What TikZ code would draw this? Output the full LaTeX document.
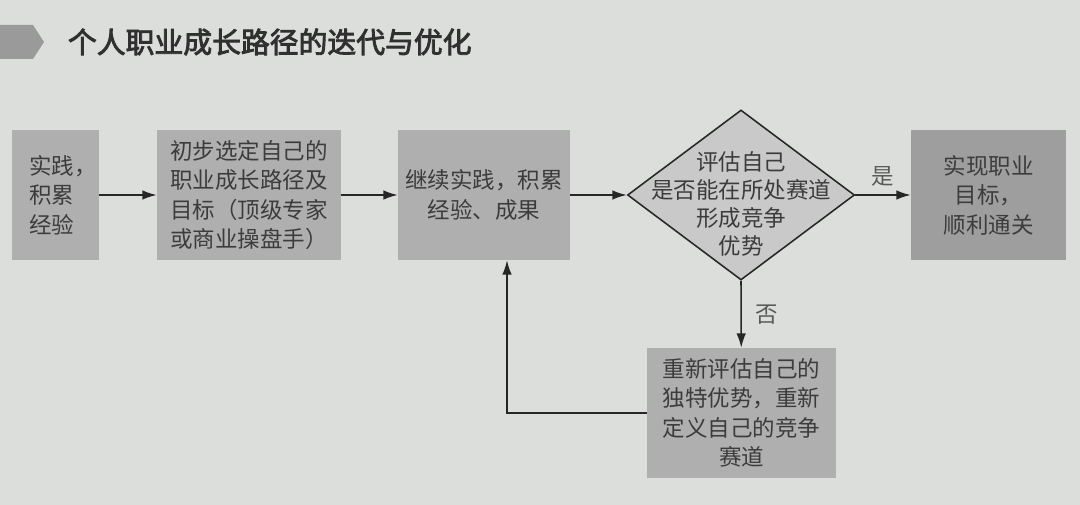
\documentclass[tikz,border=0pt]{standalone}
\usepackage{fontspec}
\setmainfont{Noto Sans CJK SC}
\newfontfamily\titlefont{Noto Sans CJK SC}[FakeBold=3]
\usepackage{tikz}
\usepackage{xcolor}
\usetikzlibrary{arrows.meta,positioning,shapes.geometric}
\definecolor{Paper}{HTML}{DCDEDC}
\definecolor{BoxGray}{HTML}{AFAFAF}
\definecolor{GoalGray}{HTML}{9E9E9E}
\definecolor{DiaGray}{HTML}{C9C9C9}
\definecolor{TagGray}{HTML}{9A9A9A}
\definecolor{Ink}{HTML}{3C3C3C}
\definecolor{Wire}{HTML}{262626}
\tikzset{
  stepbox/.style={
    fill=BoxGray,minimum height=3.25cm,inner sep=0pt,
    align=center,font=\fontsize{16}{21}\selectfont,text=Ink
  },
  check/.style={
    diamond,draw=Wire,line width=1.1pt,fill=DiaGray,
    minimum width=5.675cm,minimum height=4.25cm,inner sep=0pt
  },
  arrow/.style={-{Latex[length=3.6mm,width=2.4mm]},line width=1.1pt,draw=Wire},
  branch/.style={font=\fontsize{16}{21}\selectfont,text=Ink!85}
}

\begin{document}
\begin{tikzpicture}[x=0.025cm,y=-0.025cm]
  \fill[Paper] (0,0) rectangle (1080,505);
  \useasboundingbox (0,0) rectangle (1080,505);
  % title tag
  \fill[TagGray] (0,25) -- (33,25) -- (44,42) -- (33,59) -- (0,59) -- cycle;
  \node[anchor=west,font=\fontsize{20.5}{25}\titlefont,text=Ink!80!black]
    (title) at (63,42) {个人职业成长路径的迭代与优化};
  % main row
  \node[stepbox,minimum width=2.175cm,align=left,text width=1.3cm] (practice0) at (55.5,195)
    {实践，\\积累\\经验};
  \node[stepbox,minimum width=4.6cm] (choose) at (249,195)
    {初步选定自己的\\职业成长路径及\\目标（顶级专家\\或商业操盘手）};
  \node[stepbox,minimum width=4.3cm] (practice) at (484,195)
    {继续实践，积累\\经验、成果};
  \node[check] (eval) at (741,195) {};
  \node[align=center,font=\fontsize{16}{20}\selectfont,text=Ink] at (741,204)
    {评估自己\\是否能在所处赛道\\形成竞争\\优势};
  \node[stepbox,fill=GoalGray,minimum width=3.875cm] (goal) at (988.5,195)
    {实现职业\\目标，\\顺利通关};
  \node[stepbox,minimum width=4.725cm] (redef) at (741.5,413)
    {重新评估自己的\\独特优势，重新\\定义自己的竞争\\赛道};
  % connectors
  \draw[arrow] (practice0) -- (choose);
  \draw[arrow] (choose) -- (practice);
  \draw[arrow] (practice) -- (eval);
  \draw[arrow] (eval.east) -- node[branch,above=2pt] {是} (goal);
  \draw[arrow] (eval.south) -- node[branch,right=6pt] {否} (redef);
  \coordinate (turn) at (507,413);
  \draw[arrow] (redef.west) -- (turn) -- (turn |- practice.south);
\end{tikzpicture}
\end{document}
